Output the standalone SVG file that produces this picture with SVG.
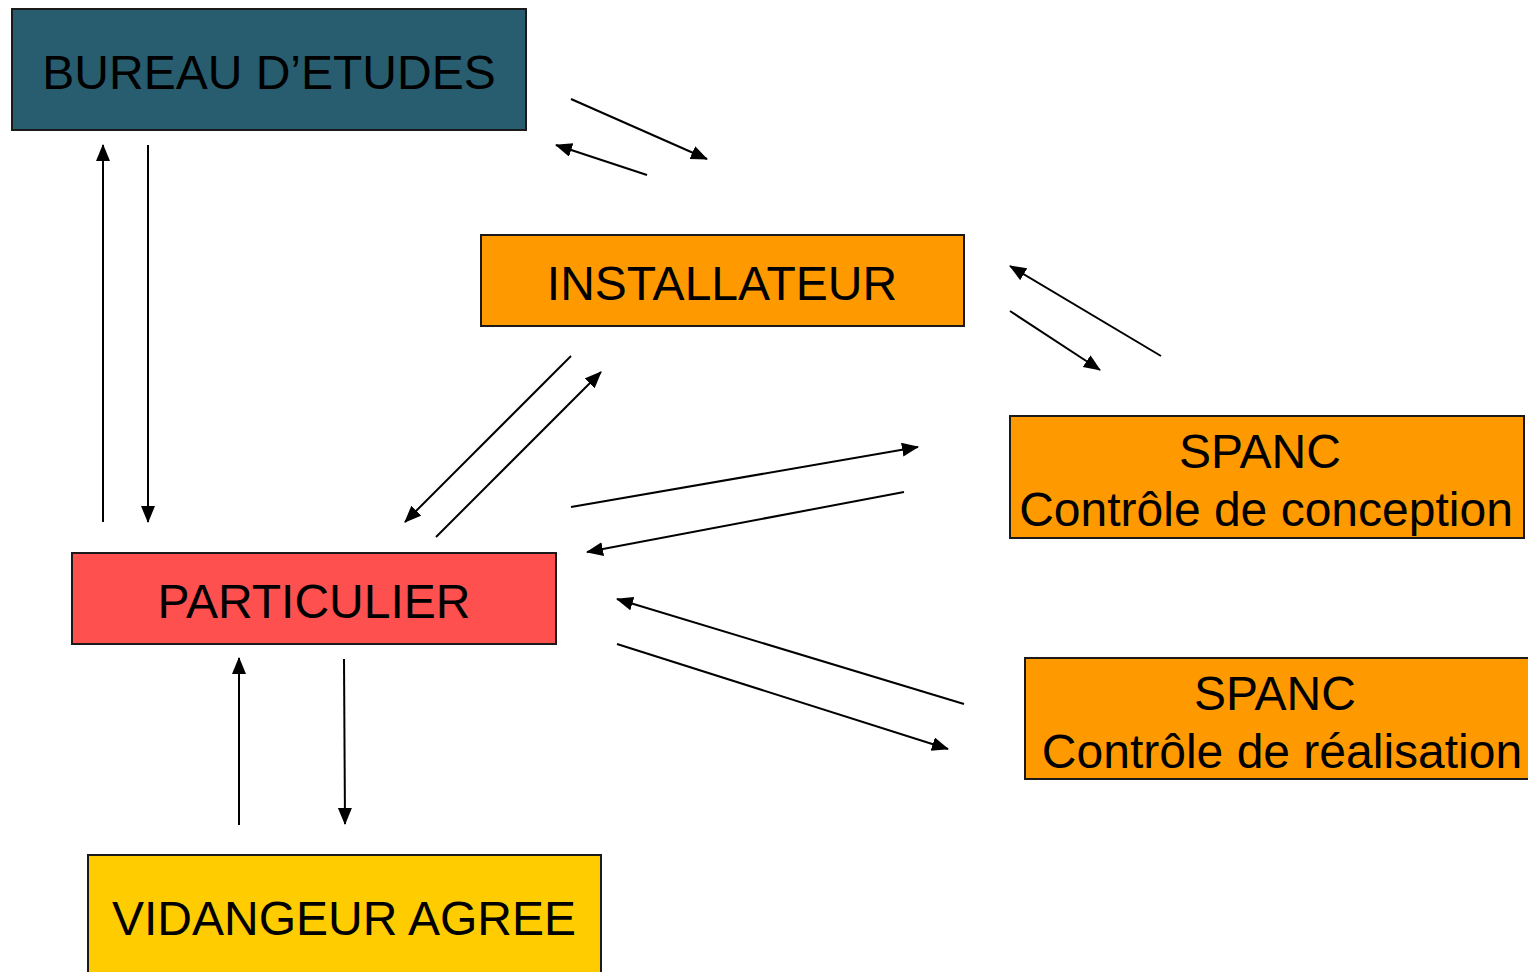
<svg xmlns="http://www.w3.org/2000/svg" width="1528" height="972" viewBox="0 0 1528 972">
<style>
.box{stroke:#1a1a1a;stroke-width:2}
.t{font-family:"Liberation Sans",Arial,sans-serif;font-size:48px;fill:#000;text-anchor:middle}
.c line{stroke:#000;stroke-width:2;marker-end:url(#ah)}
</style>
<defs>
<marker id="ah" markerUnits="userSpaceOnUse" markerWidth="18" markerHeight="15" refX="16" refY="7" orient="auto">
<path d="M0,0 L17,7 L0,14 z" fill="#000"/>
</marker>
</defs>
<rect width="1528" height="972" fill="#fff"/>
<g id="bureau">
<rect class="box" x="12" y="9" width="514" height="121" fill="#275D6E"/>
<text class="t" x="269" y="89">BUREAU D’ETUDES</text>
</g>
<g id="installateur">
<rect class="box" x="481" y="235" width="483" height="91" fill="#FF9900"/>
<text class="t" x="722" y="300">INSTALLATEUR</text>
</g>
<g id="spanc-conception">
<rect class="box" x="1010" y="416" width="514" height="122" fill="#FF9900"/>
<text class="t" x="1260" y="468">SPANC</text>
<text class="t" x="1266" y="526">Contrôle de conception</text>
</g>
<g id="spanc-realisation">
<rect class="box" x="1025" y="658" width="514" height="121" fill="#FF9900"/>
<text class="t" x="1275" y="710">SPANC</text>
<text class="t" x="1282" y="768">Contrôle de réalisation</text>
</g>
<g id="particulier">
<rect class="box" x="72" y="553" width="484" height="91" fill="#FF5050"/>
<text class="t" x="314" y="618">PARTICULIER</text>
</g>
<g id="vidangeur">
<rect class="box" x="88" y="855" width="513" height="130" fill="#FFCC00"/>
<text class="t" x="344" y="935">VIDANGEUR AGREE</text>
</g>
<g id="connectors" class="c">
<line x1="571" y1="99" x2="707" y2="159"/>
<line x1="647" y1="175" x2="556" y2="145"/>
<line x1="103" y1="522" x2="103" y2="145"/>
<line x1="148" y1="145" x2="148" y2="522"/>
<line x1="1161" y1="356" x2="1010" y2="266"/>
<line x1="1010" y1="311" x2="1100" y2="370"/>
<line x1="571" y1="356" x2="405" y2="522"/>
<line x1="436" y1="537" x2="601" y2="372"/>
<line x1="571" y1="507" x2="918" y2="447"/>
<line x1="904" y1="492" x2="587" y2="552"/>
<line x1="964" y1="704" x2="617" y2="599"/>
<line x1="617" y1="644" x2="948" y2="749"/>
<line x1="239" y1="825" x2="239" y2="658"/>
<line x1="344" y1="659" x2="345" y2="824"/>
</g>
</svg>
